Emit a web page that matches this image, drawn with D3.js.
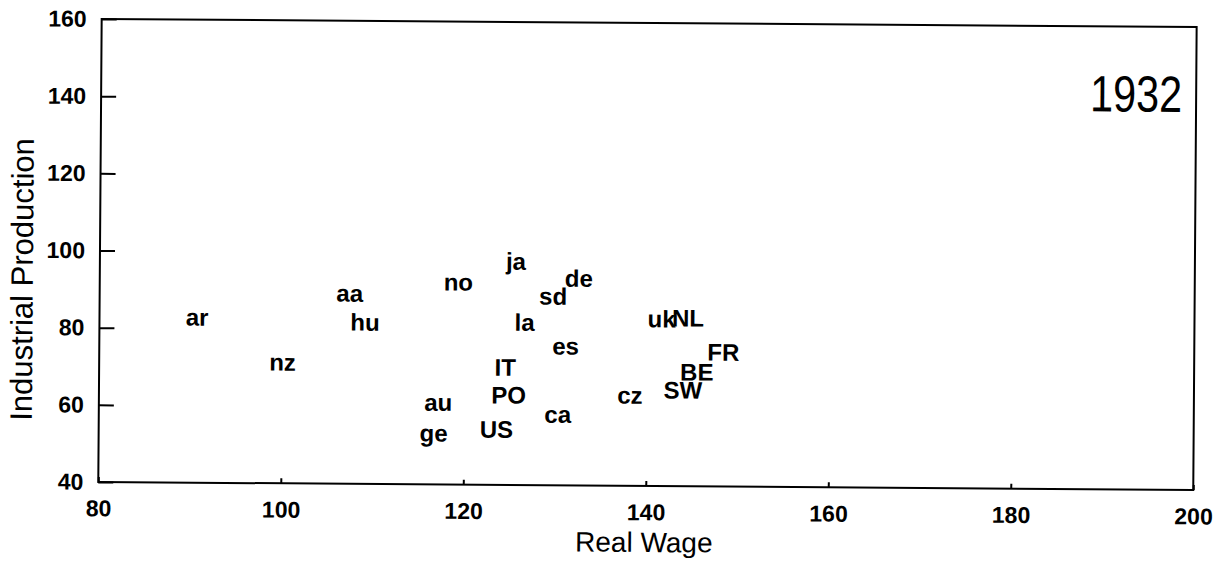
<!DOCTYPE html>
<html>
<head>
<meta charset="utf-8">
<script src="https://cdn.jsdelivr.net/npm/d3@7"></script>
<style>
  body { margin: 0; background: #ffffff; }
  svg { display: block; }
</style>
</head>
<body>
<div class="chart"></div>
<script>
// country codes and their (real wage, industrial production) for 1932
var countries = ["ar", "nz", "aa", "hu", "no", "ja", "de", "sd", "la", "es", "IT", "PO", "au", "ge", "US", "ca", "cz", "uk", "NL", "FR", "BE", "SW"];
var realWage = [90.7, 100.1, 107.4, 109.1, 119.3, 125.6, 132.5, 129.7, 126.6, 131.1, 124.5, 124.9, 117.2, 116.7, 123.6, 130.3, 138.2, 141.6, 144.5, 148.4, 145.5, 144.0];
var indProd = [82.7, 71.2, 89.2, 81.7, 92.3, 97.8, 93.5, 88.8, 82.0, 75.9, 70.3, 63.1, 61.1, 53.1, 54.2, 58.2, 63.3, 83.1, 83.4, 74.6, 69.4, 64.7];
var xTicks = [80, 100, 120, 140, 160, 180, 200];
var yTicks = [40, 60, 80, 100, 120, 140, 160];
var yearLabel = "1932";

drawChart(".chart");

function drawChart(dom) {
    var w = 1229;
    var h = 563;
    var font = "'Liberation Sans', Arial, sans-serif";

    var svg = d3.select(dom)
        .append("svg")
        .attr("width", w)
        .attr("height", h)
        .style("background", "#ffffff");

    // the scanned figure is tilted a little clockwise
    var g = svg.append("g")
        .attr("transform", "rotate(0.42, 648, 250)");

    var plotLeft = 100, plotRight = 1195, plotTop = 23, plotBottom = 486;

    var x = d3.scaleLinear().domain([80, 200]).range([plotLeft, plotRight]);
    var y = d3.scaleLinear().domain([40, 160]).range([plotBottom, plotTop]);

    // frame
    g.append("rect")
        .attr("x", plotLeft)
        .attr("y", plotTop)
        .attr("width", plotRight - plotLeft)
        .attr("height", plotBottom - plotTop)
        .attr("fill", "none")
        .attr("stroke", "#000")
        .attr("stroke-width", 2);

    var yAxis = g.append("g")
        .attr("transform", "translate(" + plotLeft + ",0)")
        .call(d3.axisLeft(y).tickValues(yTicks).tickSize(-15).tickPadding(15).tickFormat(d3.format("d")));

    var xAxis = g.append("g")
        .attr("transform", "translate(0," + plotBottom + ")")
        .call(d3.axisBottom(x).tickValues(xTicks).tickSize(-5).tickPadding(18).tickFormat(d3.format("d")));

    [xAxis, yAxis].forEach(function(a){
        a.select(".domain").remove();
        a.selectAll("line").attr("stroke", "#000").attr("stroke-width", 2);
        a.selectAll("text")
            .attr("font-family", font)
            .attr("font-size", 23)
            .attr("font-weight", "bold")
            .attr("fill", "#000");
    });

    // country labels
    g.append("g").selectAll("text")
        .data(countries)
        .enter()
        .append("text")
        .attr("x", function(d, i){ return x(realWage[i]); })
        .attr("y", function(d, i){ return y(indProd[i]); })
        .attr("dy", "0.32em")
        .attr("text-anchor", "middle")
        .attr("font-family", font)
        .attr("font-size", 24)
        .attr("font-weight", "bold")
        .attr("fill", "#000")
        .text(function(d){ return d; });

    // year tag
    g.append("text")
        .attr("x", 1181)
        .attr("y", 108)
        .attr("text-anchor", "end")
        .attr("font-family", font)
        .attr("font-size", 51)
        .attr("textLength", 92)
        .attr("lengthAdjust", "spacingAndGlyphs")
        .attr("fill", "#000")
        .text(yearLabel);

    // axis titles
    g.append("text")
        .attr("x", 646)
        .attr("y", 552)
        .attr("text-anchor", "middle")
        .attr("font-family", font)
        .attr("font-size", 28)
        .attr("fill", "#000")
        .text("Real Wage");

    g.append("text")
        .attr("transform", "translate(33,284) rotate(-90)")
        .attr("text-anchor", "middle")
        .attr("font-family", font)
        .attr("font-size", 31)
        .attr("fill", "#000")
        .text("Industrial Production");
}
</script>
</body>
</html>
